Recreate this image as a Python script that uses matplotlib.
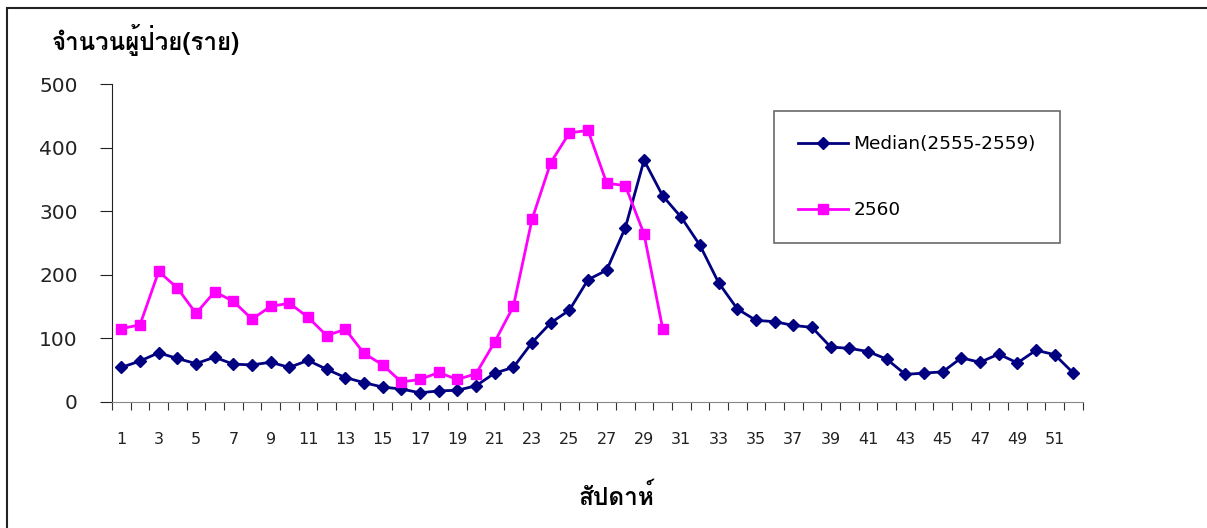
import matplotlib
matplotlib.use("Agg")
import matplotlib.pyplot as plt
from matplotlib import font_manager
from matplotlib.ft2font import FT2Font
from matplotlib.patches import Rectangle

# weekly cases
weeks = list(range(1, 53))
median_5y = [54, 64, 77, 68, 60, 70, 59, 58, 62, 54,
             65, 51, 38, 30, 23, 20, 14, 17, 18, 25,
             45, 54, 93, 124, 144, 192, 207, 274, 380, 324,
             290, 246, 187, 146, 128, 126, 120, 117, 86, 84,
             79, 67, 43, 45, 47, 69, 62, 75, 61, 81,
             74, 45]
cases_2560 = [115, 121, 205, 179, 139, 173, 158, 130, 150, 155,
              133, 104, 114, 76, 58, 31, 35, 46, 35, 44,
              94, 150, 287, 376, 423, 427, 344, 340, 264, 115]
series_names = ["Median(2555-2559)", "2560"]
ylabel_txt = "จำนวนผู้ป่วย(ราย)"
xlabel_txt = "สัปดาห์"


def find_thai_font():
    # look for an installed font that has Thai glyphs
    hits = []
    for f in font_manager.fontManager.ttflist:
        try:
            cmap = FT2Font(f.fname).get_charmap()
        except Exception:
            continue
        if ord("จ") in cmap and ord("ห") in cmap:
            hits.append(f.name)
    if "Loma" in hits:
        return ["Loma"]
    return hits[:1]


families = find_thai_font() + ["DejaVu Sans"]
plt.rcParams["font.family"] = ["DejaVu Sans"]

fig = plt.figure(figsize=(12.07, 5.28), dpi=100)
ax = fig.add_axes([112 / 1207, 1 - 401.7 / 528, 970.7 / 1207, 317.7 / 528])

ax.plot(weeks, median_5y, color="#000080", lw=2.0, marker="D", ms=6,
        label=series_names[0])
ax.plot(weeks[:len(cases_2560)], cases_2560, color="#FF00FF", lw=2.0,
        marker="s", ms=7, label=series_names[1])

ax.set_xlim(0.5, 52.5)
ax.set_ylim(0, 500)
ax.set_yticks(range(0, 501, 100))
ax.set_xticks([w + 0.5 for w in range(0, 53)])
ax.set_xticklabels([])
ax.set_xticks(weeks[::2], minor=True)
ax.set_xticklabels([str(w) for w in weeks[::2]], minor=True)
ax.tick_params(axis="x", which="major", direction="out", length=6,
               color="#333333")
ax.tick_params(axis="x", which="minor", length=0, pad=22, labelsize=11.5,
               colors="#222222")
ax.tick_params(axis="y", direction="out", length=8.6, pad=16,
               labelsize=14.5, colors="#222222")
for s in ["top", "right"]:
    ax.spines[s].set_visible(False)
ax.spines["bottom"].set_color("#888888")
ax.spines["left"].set_color("#222222")

leg = ax.legend(loc="upper left", bbox_to_anchor=(774 / 1207, 1 - 111 / 528),
                bbox_transform=fig.transFigure, fontsize=13.3, frameon=True,
                fancybox=False, edgecolor="#444444", handlelength=2.7,
                handletextpad=0.3, labelspacing=2.6, borderpad=1.3,
                borderaxespad=0)
leg.get_frame().set_linewidth(1.2)

fig.text(52 / 1207, 1 - 40 / 528, ylabel_txt, family=families,
         fontsize=17.4, fontweight="bold", va="center", ha="left")
fig.text(617 / 1207, 1 - 497 / 528, xlabel_txt, family=families,
         fontsize=17.6, fontweight="bold", va="center", ha="center")

# outer frame (right and bottom edges fall outside the picture)
fig.add_artist(Rectangle((7 / 1207, -0.1), 1.2, 1.1 - 8 / 528,
                         transform=fig.transFigure, fill=False,
                         edgecolor="#222222", lw=1.5))

fig.savefig("out.png", dpi=100)
